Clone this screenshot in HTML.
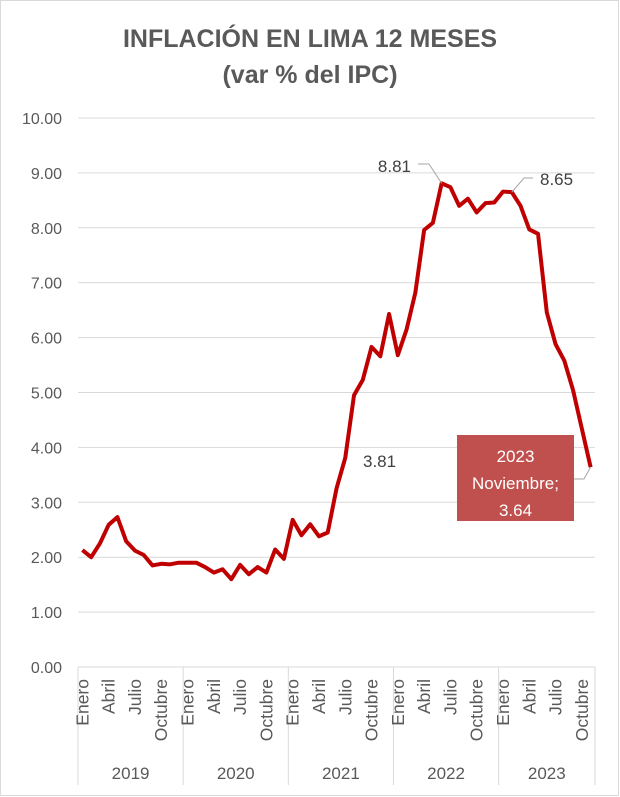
<!DOCTYPE html>
<html><head><meta charset="utf-8"><style>
body{margin:0;background:#fff}
svg{display:block;font-family:"Liberation Sans",sans-serif}
</style></head><body>
<svg id="c" width="620" height="797">
<rect x="0.5" y="0.5" width="618" height="795" fill="#fff" stroke="#d9d9d9"/>
<text x="310" y="47" text-anchor="middle" font-size="25" font-weight="bold" fill="#595959">INFLACIÓN EN LIMA 12 MESES</text>
<text x="310" y="83" text-anchor="middle" font-size="25" font-weight="bold" fill="#595959">(var % del IPC)</text>
<g id="grid"></g><g id="xaxis"></g><g id="line"></g><g id="labels"></g>
</svg>
<script>
const years=["2019","2020","2021","2022","2023"];
const monthLabels=["Enero","Abril","Julio","Octubre"];
const yTicks=[0,1,2,3,4,5,6,7,8,9,10];
const v2019=[2.13,2.00,2.25,2.59,2.73,2.29,2.12,2.04,1.85,1.88,1.87,1.90];
const v2020=[1.90,1.90,1.82,1.72,1.78,1.60,1.86,1.69,1.82,1.72,2.14,1.97];
const v2021=[2.68,2.40,2.60,2.38,2.45,3.25,3.81,4.95,5.23,5.83,5.66,6.43];
const v2022=[5.68,6.15,6.82,7.96,8.09,8.81,8.74,8.40,8.53,8.28,8.45,8.46];
const v2023=[8.66,8.65,8.40,7.97,7.89,6.46,5.88,5.58,5.04,4.34,3.64];
const values=[].concat(v2019,v2020,v2021,v2022,v2023);
const NS="http://www.w3.org/2000/svg";
const L=78,R=595,T=118,B=667,n=values.length,w=(R-L)/n;
const x=i=>L+(i+0.5)*w, y=v=>B-(v/10)*(B-T);
function mk(p,t,a,txt){const e=document.createElementNS(NS,t);for(const k in a)e.setAttribute(k,a[k]);if(txt!=null)e.textContent=txt;document.getElementById(p).appendChild(e);return e;}
yTicks.forEach(t=>{
 const g=mk('grid','line',{x1:L,x2:R,y1:y(t),y2:y(t),stroke:'#d9d9d9','stroke-width':1});
 
 
 const l=mk('grid','text',{x:62,y:y(t)+6,'text-anchor':'end','font-size':16,fill:'#595959'},t.toFixed(2));
 
 
});
let idx=0;
years.forEach((yr,k)=>{
 const cnt=(k===years.length-1)?v2023.length:12;
 const x0=L+idx*w;
 const s=mk('xaxis','line',{x1:x0,x2:x0,y1:B,y2:785,stroke:'#d9d9d9'});
 
 
 monthLabels.forEach((m,j)=>{
  const i=idx+j*3; const cx=x(i)+6;
  const t=mk('xaxis','text',{x:0,y:0,transform:`translate(${cx},${B+12}) rotate(-90)`,'text-anchor':'end','font-size':17.5,fill:'#595959'},m);
  
  
 });
 const yt=mk('xaxis','text',{x:x0+cnt*w/2,y:779,'text-anchor':'middle','font-size':17,fill:'#595959'},yr);
 
 
 idx+=cnt;
});
const e=mk('xaxis','line',{x1:R,x2:R,y1:B,y2:785,stroke:'#d9d9d9'});


const p=mk('line','polyline',{points:values.map((v,i)=>x(i)+','+y(v)).join(' '),fill:'none',stroke:'#c00000','stroke-width':4,'stroke-linejoin':'round'});


const i1=41,i2=49,i3=n-1;
const c1=mk('labels','polyline',{points:`${418},164 ${429},164 ${x(i1)},${y(values[i1])}`,fill:'none',stroke:'#a6a6a6'});


const t1=mk('labels','text',{x:411,y:172,'text-anchor':'end','font-size':17,fill:'#404040'},values[i1].toFixed(2));


const c2=mk('labels','polyline',{points:`${x(i2)},${y(values[i2])} ${524},178 ${533},178`,fill:'none',stroke:'#a6a6a6'});


const t2=mk('labels','text',{x:540,y:185,'font-size':17,fill:'#404040'},'8.65');


const t3=mk('labels','text',{x:363,y:467,'font-size':17,fill:'#404040'},values[30].toFixed(2));


const bx=mk('labels','rect',{x:457,y:435,width:117,height:86,fill:'#c0504d'});


const c3=mk('labels','polyline',{points:`574,479 584,479 ${x(i3)},${y(values[i3])}`,fill:'none',stroke:'#a6a6a6'});


['2023','Noviembre;',values[i3].toFixed(2)].forEach((s,j)=>{
 const t=mk('labels','text',{x:515.5,y:462+j*27,'text-anchor':'middle','font-size':17,fill:'#fff'},s);
 
 
});
</script>
</body></html>
